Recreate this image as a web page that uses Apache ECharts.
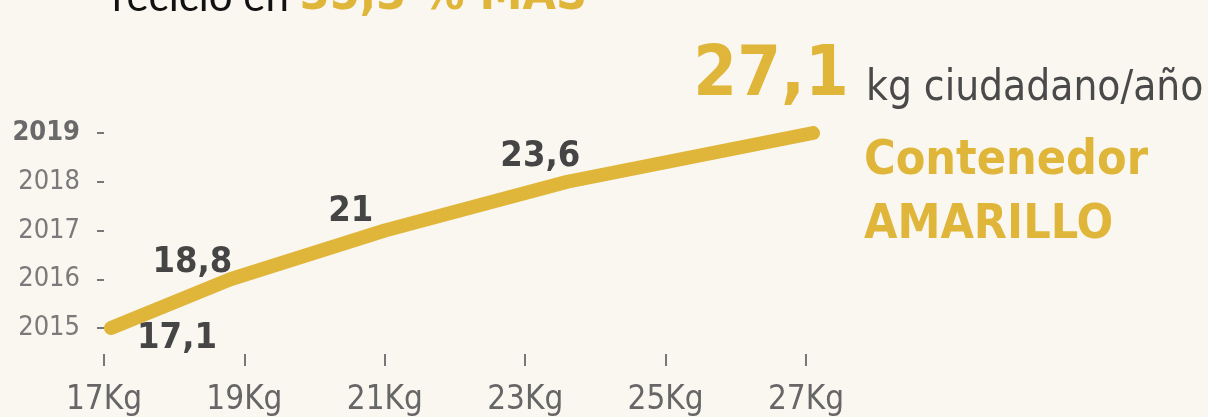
<!DOCTYPE html>
<html>
<head>
<meta charset="utf-8">
<script src="https://cdn.jsdelivr.net/npm/echarts@6/dist/echarts.min.js"></script>
<style>
  html, body { margin: 0; padding: 0; background: #faf7f1; }
  #chart { width: 1208px; height: 417px; }
</style>
</head>
<body>
<div id="chart"></div>
<script>
// reciclaje contenedor amarillo, kg por ciudadano y año

var years = ['2015', '2016', '2017', '2018', '2019'];
var kilos = [17.1, 18.8, 21, 23.6, 27.1];
var kgTicks = [17, 19, 21, 23, 25, 27];

var narrow = '"DejaVu Sans Condensed", sans-serif';
var yellow = '#e0b63a';

// posicion de cada etiqueta respecto al punto
var labelPos = [
    { offset: [66, 11] },
    { offset: [-38, -17] },
    { offset: [-34, -19] },
    { offset: [-27, -25] },
    { offset: [-42, -56], fontSize: 70, color: yellow }
];

var chart = echarts.init(document.getElementById('chart'));

var option = {
    backgroundColor: '#faf7f1',
    animation: false,
    grid: {
        left: 104,
        right: 402,
        top: 133,
        bottom: 87
    },
    xAxis: {
        type: 'value',
        min: kgTicks[0],
        max: kgTicks[kgTicks.length - 1],
        interval: 2,
        offset: 26,
        splitLine: { show: false },
        axisLine: { show: false },
        axisTick: { show: true, length: 12, lineStyle: { color: '#777', width: 2 } },
        axisLabel: {
            margin: 30,
            fontFamily: narrow,
            fontSize: 33,
            color: '#666',
            formatter: '{value}Kg'
        }
    },
    yAxis: {
        type: 'category',
        data: years,
        boundaryGap: false,
        axisLine: { show: false },
        axisTick: { show: true, length: 7, lineStyle: { color: '#777', width: 2 } },
        axisLabel: {
            margin: 24,
            fontFamily: narrow,
            fontSize: 27,
            color: '#7a7a7a',
            formatter: function (v) {
                return v === '2019' ? '{b|' + v + '}' : v;
            },
            rich: {
                b: { fontFamily: narrow, fontSize: 27, fontWeight: 'bold', color: '#6a6a6a' }
            }
        }
    },
    series: [{
        type: 'line',
        clip: false,
        data: kilos.map(function (k, i) {
            var p = labelPos[i];
            return {
                value: [k, years[i]],
                label: {
                    show: true,
                    position: 'inside',
                    offset: p.offset,
                    fontSize: p.fontSize || 36,
                    color: p.color || '#454545'
                }
            };
        }),
        showSymbol: true,
        symbol: 'circle',
        symbolSize: 2,
        itemStyle: { color: 'rgba(0,0,0,0)', borderWidth: 0 },
        lineStyle: { color: yellow, width: 14, cap: 'round', join: 'round' },
        label: {
            show: true,
            fontFamily: narrow,
            fontWeight: 'bold',
            formatter: function (p) {
                return String(p.value[0]).replace('.', ',');
            }
        }
    }],
    graphic: [
        {
            type: 'text',
            left: 112,
            top: -27,
            style: {
                text: '{a|reciclo en }{b|35,3 % MÁS}',
                rich: {
                    a: { fontFamily: 'Lato, sans-serif', fontSize: 42, fill: '#111' },
                    b: { fontFamily: narrow, fontSize: 48, fontWeight: 'bold', fill: yellow }
                }
            }
        },
        {
            type: 'text',
            left: 866,
            top: 68,
            style: {
                text: 'kg ciudadano/año',
                font: '42px ' + narrow,
                fill: '#4a4a4a'
            }
        },
        {
            type: 'text',
            left: 864,
            top: 130,
            style: {
                text: 'Contenedor\nAMARILLO',
                font: 'bold 48px ' + narrow,
                lineHeight: 64,
                fill: yellow
            }
        }
    ]
};

chart.setOption(option);
window.onresize = function () {
    chart.resize();
};
</script>
</body>
</html>
